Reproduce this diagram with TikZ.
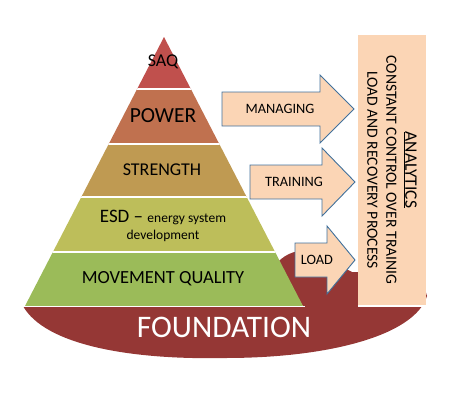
\documentclass[tikz,border=0pt]{standalone}
\usepackage{fontspec}
\setmainfont{Carlito}
\usetikzlibrary{positioning}

\definecolor{saqred}{HTML}{C0504D}
\definecolor{powerbrown}{HTML}{C0714F}
\definecolor{strengthtan}{HTML}{BF9A52}
\definecolor{esdolive}{HTML}{BDBE5A}
\definecolor{mqgreen}{HTML}{9BBB59}
\definecolor{foundred}{HTML}{953735}
\definecolor{peach}{HTML}{FBD5B5}
\definecolor{arrowblue}{HTML}{41719C}

\begin{document}
\begin{tikzpicture}[
		x=1pt,y=-1pt,
		layer/.style={
			inner sep=0pt,
			text=black,
			font=\fontsize{18}{20}\selectfont,
		},
		blockarrow/.style={
			fill=peach,
			draw=arrowblue,
			line width=0.9pt,
			line join=miter,
		},
		arrowtext/.style={
			inner sep=0pt,
			font=\fontsize{14.3}{16}\selectfont,
		},
		]
		\useasboundingbox (0,0) rectangle (450,400);
		% Draw the foundation
		\fill[foundred] (23,306) -- (303,306) -- (275,265)
			.. controls (283,256) and (292,250) .. (310,250)
			-- (352,272) -- (420,272) -- (427,296)
			.. controls (415,335) and (330,358) .. (225,358)
			.. controls (130,360) and (45,345) .. (23,306) -- cycle;
		% Draw the pyramid layers
		\begin{scope}
			\clip (164,37) -- (303,306) -- (25,306) -- cycle;
			\foreach \col/\ya/\yb in {saqred/30/89,powerbrown/89/144,strengthtan/144/197,esdolive/197/252,mqgreen/252/306} {
				\fill[\col] (0,\ya) rectangle (450,\yb);
			}
			\foreach \y in {89,144,197,252} {
				\draw[white,line width=1.5pt] (0,\y) -- (450,\y);
			}
		\end{scope}
		\draw[white,line width=1.5pt] (22,306.5) -- (305,306.5);
		% Draw the layer labels
		\node[layer] (saq) at (163,62) {SAQ};
		\node[layer,font=\fontsize{21.5}{24}\selectfont] (power) at (163,116) {POWER};
		\node[layer] (strength) at (162,170) {STRENGTH};
		\node[layer,align=center,font=\fontsize{19}{20}\selectfont] (esd) at (163,226)
			{ESD -- {\fontsize{13.5}{16}\selectfont energy system}\\[-3pt]{\fontsize{13.5}{16}\selectfont development}};
		\node[layer,font=\fontsize{18.5}{20}\selectfont] (mq) at (163,279) {MOVEMENT QUALITY};
		\node[layer,text=white,font=\fontsize{31.4}{34}\selectfont] (foundation) at (224,327) {FOUNDATION};
		% Draw the block arrows and labels
		\foreach \nm/\xa/\xb/\xc/\yc/\xt/\txt in {managing/222/320/354/109/280/MANAGING,training/250/322/355/182/294/TRAINING,load/295/327/355/260/317/LOAD} {
			\draw[blockarrow] (\xa,\yc-17) -- (\xb,\yc-17) -- (\xb,\yc-34) -- (\xc,\yc)
				-- (\xb,\yc+34) -- (\xb,\yc+17) -- (\xa,\yc+17) -- cycle;
			\node[arrowtext] (\nm) at (\xt,\yc) {\txt};
		}
		% Draw the analytics box
		\node[fill=peach,minimum width=68pt,minimum height=271pt,inner sep=0pt] (analytics) at (392,170.5) {};
		\draw[white,line width=1.5pt] (analytics.south west) -- (analytics.south east);
		\node[rotate=-90,align=center,inner sep=0pt,font=\fontsize{15.6}{19}\selectfont] (analyticstext) at (392,170)
			{{\fontsize{17.5}{19}\selectfont\underline{ANALYTICS}}\\CONSTANT CONTROL OVER TRAINIG\\LOAD AND RECOVERY PROCESS};
	\end{tikzpicture}
\end{document}
